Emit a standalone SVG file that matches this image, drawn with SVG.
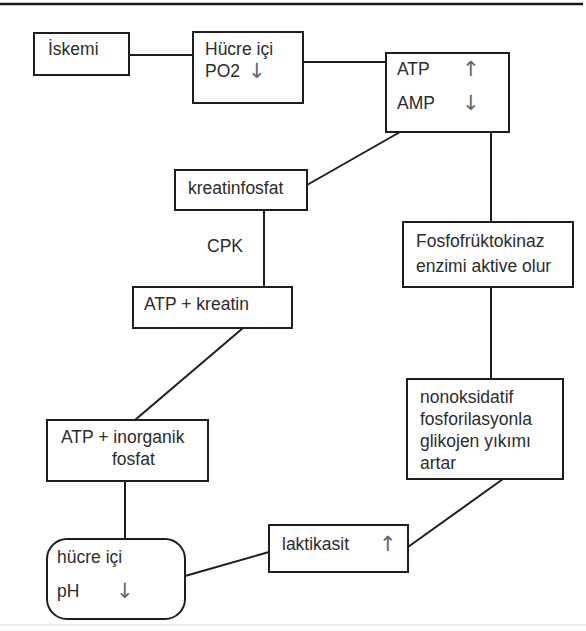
<svg xmlns="http://www.w3.org/2000/svg" width="586" height="631" viewBox="0 0 586 631">
<style>
.box{fill:#ffffff;stroke:#1e1e1e;stroke-width:2}
.edge{fill:none;stroke:#1e1e1e;stroke-width:2}
text{font-family:"Liberation Sans",Arial,sans-serif;font-size:17.5px;fill:#2c2c2c}
text.arr{font-family:"DejaVu Sans",sans-serif;font-size:21px;fill:#666666}
</style>
<rect x="0" y="0" width="586" height="631" fill="#ffffff"/>
<line x1="0" y1="4" x2="583" y2="4" stroke="#1a1a1a" stroke-width="2.5"/>
<line x1="0" y1="625" x2="586" y2="625" stroke="#eceeee" stroke-width="2"/>
<g id="connectors">
  <line class="edge" x1="129" y1="55" x2="193" y2="55"/>
  <line class="edge" x1="303" y1="62" x2="386" y2="62"/>
  <line class="edge" x1="400" y1="132" x2="307" y2="185"/>
  <line class="edge" x1="491" y1="132" x2="491" y2="222"/>
  <line class="edge" x1="264" y1="210" x2="264" y2="287"/>
  <line class="edge" x1="243" y1="328" x2="135" y2="420"/>
  <line class="edge" x1="491" y1="287" x2="491" y2="379"/>
  <line class="edge" x1="125" y1="481" x2="125" y2="539"/>
  <line class="edge" x1="185" y1="576" x2="269" y2="552"/>
  <line class="edge" x1="408" y1="547" x2="503" y2="479"/>
  <text x="207" y="252">CPK</text>
</g>
<g id="iskemi">
  <rect class="box" x="34" y="33" width="95" height="42"/>
  <text x="48" y="55">İskemi</text>
</g>
<g id="hucre-po2">
  <rect class="box" x="193" y="32" width="110" height="71"/>
  <text x="205" y="55">Hücre içi</text>
  <text x="205" y="77">PO2</text>
  <text class="arr" x="248" y="78">↓</text>
</g>
<g id="atp-amp">
  <rect class="box" x="386" y="53" width="123" height="79"/>
  <text x="397" y="75">ATP</text>
  <text class="arr" x="462" y="76">↑</text>
  <text x="397" y="109">AMP</text>
  <text class="arr" x="462" y="110">↓</text>
</g>
<g id="kreatinfosfat">
  <rect class="box" x="175" y="170" width="132" height="40"/>
  <text x="188" y="194">kreatinfosfat</text>
</g>
<g id="atp-kreatin">
  <rect class="box" x="133" y="287" width="159" height="41"/>
  <text x="144" y="310">ATP + kreatin</text>
</g>
<g id="fosfofruktokinaz">
  <rect class="box" x="403" y="222" width="170" height="65"/>
  <text x="416" y="247">Fosfofrüktokinaz</text>
  <text x="416" y="272">enzimi aktive olur</text>
</g>
<g id="nonoksidatif">
  <rect class="box" x="407" y="379" width="156" height="100"/>
  <text x="420" y="403">nonoksidatif</text>
  <text x="420" y="425">fosforilasyonla</text>
  <text x="420" y="447">glikojen yıkımı</text>
  <text x="420" y="469">artar</text>
</g>
<g id="atp-inorganik">
  <rect class="box" x="47" y="420" width="161" height="61"/>
  <text x="61" y="443">ATP + inorganik</text>
  <text x="112" y="465">fosfat</text>
</g>
<g id="hucre-ph">
  <rect class="box" x="47" y="539" width="138" height="80" rx="20" ry="20"/>
  <text x="57" y="563">hücre içi</text>
  <text x="57" y="597">pH</text>
  <text class="arr" x="116" y="598">↓</text>
</g>
<g id="laktikasit">
  <rect class="box" x="269" y="525" width="139" height="47"/>
  <text x="282" y="550">laktikasit</text>
  <text class="arr" x="379" y="551">↑</text>
</g>
</svg>
